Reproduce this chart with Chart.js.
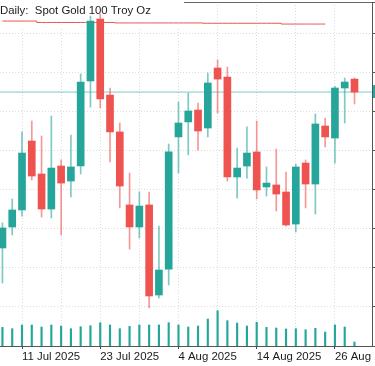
<!DOCTYPE html>
<html>
<head>
<meta charset="utf-8">
<script src="https://cdn.jsdelivr.net/npm/chart.js@4.4.1/dist/chart.umd.min.js"></script>
<style>
  body { margin: 0; background: #fff; }
  canvas { display: block; }
</style>
</head>
<body>
<canvas id="chart" width="375" height="366"></canvas>
<script>
// Daily bars, 9 Jul .. 28 Aug 2025
const dates = [
  "9 Jul 2025", "10 Jul 2025", "11 Jul 2025", "14 Jul 2025", "15 Jul 2025", "16 Jul 2025",
  "17 Jul 2025", "18 Jul 2025", "21 Jul 2025", "22 Jul 2025", "23 Jul 2025", "24 Jul 2025",
  "25 Jul 2025", "28 Jul 2025", "29 Jul 2025", "30 Jul 2025", "31 Jul 2025", "1 Aug 2025",
  "4 Aug 2025", "5 Aug 2025", "6 Aug 2025", "7 Aug 2025", "8 Aug 2025", "11 Aug 2025",
  "12 Aug 2025", "13 Aug 2025", "14 Aug 2025", "15 Aug 2025", "18 Aug 2025", "19 Aug 2025",
  "20 Aug 2025", "21 Aug 2025", "22 Aug 2025", "25 Aug 2025", "26 Aug 2025", "27 Aug 2025",
  "28 Aug 2025"
];

const opens = [
  3287.7, 3301.1, 3312.0, 3356.1, 3335.0, 3312.6, 3340.1, 3330.5, 3340.1, 3394.5,
  3434.1, 3385.5, 3361.9, 3315.2, 3301.1, 3315.2, 3257.6, 3274.2, 3358.7, 3368.3,
  3375.9, 3364.4, 3402.8, 3397.0, 3333.1, 3340.1, 3349.1, 3326.7, 3328.0, 3323.5,
  3303.0, 3342.0, 3328.6, 3365.7, 3358.0, 3390.0, 3395.7
];
const highs = [
  3303.7, 3319.0, 3361.9, 3368.9, 3359.3, 3372.1, 3344.0, 3359.9, 3399.0, 3436.0,
  3437.3, 3390.0, 3367.6, 3335.6, 3323.5, 3323.5, 3301.7, 3354.2, 3381.0, 3386.8,
  3380.4, 3399.6, 3407.9, 3403.4, 3351.6, 3365.1, 3368.9, 3339.5, 3351.0, 3336.3,
  3341.4, 3344.0, 3373.4, 3370.8, 3391.0, 3396.4, 3396.4
];
const lows = [
  3265.3, 3296.0, 3308.1, 3331.2, 3307.5, 3306.9, 3296.0, 3320.3, 3335.0, 3377.8,
  3377.2, 3342.7, 3313.3, 3287.0, 3294.1, 3249.3, 3255.7, 3264.0, 3335.6, 3347.2,
  3350.3, 3358.7, 3374.0, 3330.5, 3319.6, 3332.4, 3319.0, 3320.9, 3311.3, 3301.7,
  3297.9, 3313.3, 3309.4, 3352.3, 3342.0, 3367.6, 3379.8
];
const closes = [
  3300.5, 3312.0, 3348.4, 3333.7, 3312.6, 3338.8, 3329.2, 3339.5, 3393.8, 3432.8,
  3383.0, 3361.9, 3327.3, 3301.1, 3314.5, 3257.0, 3273.6, 3349.1, 3367.6, 3375.3,
  3362.5, 3393.2, 3395.7, 3333.1, 3338.8, 3348.4, 3324.8, 3329.2, 3322.2, 3302.4,
  3339.5, 3328.6, 3367.0, 3358.7, 3390.0, 3393.8, 3387.4
];
const volumes = [
  1870, 1730, 2100, 2100, 1900, 2100, 2000, 1730, 1930, 2030,
  2330, 2100, 1730, 1970, 2100, 2100, 2100, 2330, 2100, 1900,
  2000, 2700, 3530, 2530, 2300, 2000, 2370, 1870, 1800, 1700,
  1730, 1630, 1770, 1400, 2100, 1900, 400
];
// red level line near the top, ends at 25 Aug
const resistance = [
  3432.8, 3432.8, 3432.8, 3432.8, 3431.9, 3431.9, 3431.9, 3431.9, 3431.9, 3431.9,
  3431.9, 3431.9, 3431.6, 3431.6, 3431.6, 3431.6, 3431.6, 3431.6, 3431.6, 3431.6,
  3431.6, 3431.4, 3431.4, 3431.4, 3431.4, 3431.4, 3431.4, 3431.4, 3431.4, 3430.9,
  3430.9, 3430.9, 3430.9, 3430.9
];

// grid every 4 bars, labels every 8 bars
const gridBars = [2, 6, 10, 14, 18, 22, 26, 30, 34];
const labelBars = [2, 10, 18, 26, 34];

const upColor = "#26a69a";
const downColor = "#ef5350";
const lastClose = closes[closes.length - 1];
const xMin = -0.25;
const xMax = 37.79;
const fontFamily = '"Liberation Sans", Arial, sans-serif';

const isUp = closes.map((c, j) => c >= opens[j]);

const chartDecor = {
  id: "chartDecor",
  beforeDatasetsDraw(chart) {
    const { ctx, chartArea } = chart;
    ctx.save();
    // top frame line
    ctx.strokeStyle = "#666";
    ctx.lineWidth = 1;
    ctx.beginPath();
    ctx.moveTo(0, chartArea.top + 0.5);
    ctx.lineTo(chartArea.right, chartArea.top + 0.5);
    ctx.stroke();
    // the title box hides frame and grid behind it
    ctx.fillStyle = "#fff";
    ctx.fillRect(0, 0, 184, chartArea.top + 25);
    ctx.fillStyle = "#1b1b1b";
    ctx.font = "11.4px " + fontFamily;
    ctx.textBaseline = "middle";
    ctx.fillText("Daily:  Spot Gold 100 Troy Oz", 0, 10.5);
    ctx.restore();
  },
  afterDraw(chart) {
    const { ctx, chartArea, scales } = chart;
    // last price tag, cut by the window edge
    const y = scales.y.getPixelForValue(lastClose);
    ctx.save();
    ctx.fillStyle = upColor;
    ctx.fillRect(chartArea.right + 1, y - 7, 3, 13);
    ctx.restore();
  },
};

Chart.defaults.font.family = fontFamily;
Chart.defaults.font.size = 11.4;

new Chart(document.getElementById("chart"), {
  type: "bar",
  data: {
    datasets: [
      {
        type: "bar",
        label: "Body",
        data: dates.map((d, j) => ({ x: j, y: [opens[j], closes[j]] })),
        backgroundColor: isUp.map((u) => (u ? upColor : downColor)),
        barThickness: 7,
        grouped: false,
        borderSkipped: false,
        order: 0,
      },
      {
        type: "bar",
        label: "Wick",
        data: dates.map((d, j) => ({ x: j, y: [lows[j], highs[j]] })),
        backgroundColor: isUp.map((u) => (u ? "rgba(38,166,154,0.6)" : "rgba(239,83,80,0.6)")),
        barThickness: 1,
        grouped: false,
        borderSkipped: false,
        order: 1,
      },
      {
        type: "bar",
        label: "Volume",
        data: volumes.map((v, j) => ({ x: j, y: v })),
        backgroundColor: upColor,
        barThickness: 1.5,
        grouped: false,
        yAxisID: "yv",
        order: 2,
      },
      {
        type: "line",
        label: "Level",
        data: resistance.map((v, j) => ({ x: j, y: v })),
        borderColor: downColor,
        borderWidth: 1,
        pointRadius: 0,
        stepped: "middle",
        order: 3,
      },
      {
        type: "line",
        label: "Last",
        data: [{ x: xMin, y: lastClose }, { x: xMax, y: lastClose }],
        borderColor: "rgba(38,166,154,0.6)",
        borderWidth: 1,
        pointRadius: 0,
        order: 4,
      },
    ],
  },
  options: {
    responsive: false,
    animation: false,
    events: [],
    layout: { padding: { top: 2, left: 0, right: 0, bottom: 0 } },
    plugins: {
      legend: { display: false },
      tooltip: { enabled: false },
    },
    scales: {
      x: {
        type: "linear",
        min: xMin,
        max: xMax,
        offset: false,
        afterBuildTicks: (s) => {
          s.ticks = gridBars.map((v) => ({ value: v }));
        },
        afterFit: (s) => {
          s.height = 20;
          s.paddingLeft = 0;
          s.paddingRight = 0;
        },
        grid: {
          color: "#dcdcdc",
          offset: false,
          tickLength: 3,
          tickColor: (ctx) => (ctx.tick && labelBars.includes(ctx.tick.value) ? "#444" : "rgba(0,0,0,0)"),
        },
        border: { display: true, color: "#555", dash: [1, 2] },
        ticks: {
          autoSkip: false,
          maxRotation: 0,
          align: "start",
          padding: 1,
          color: "#1b1b1b",
          callback: (v) => (labelBars.includes(v) ? dates[v] : ""),
        },
      },
      y: {
        position: "right",
        min: 3225,
        max: 3445,
        beginAtZero: false,
        afterFit: (s) => {
          s.width = 3;
          s.paddingTop = 0;
          s.paddingBottom = 0;
        },
        grid: { color: "#dcdcdc", tickLength: 3, tickColor: "#555" },
        border: { display: true, color: "#555", dash: [1, 2] },
        ticks: { display: false, stepSize: 25 },
      },
      yv: {
        display: false,
        min: 0,
        max: 34400,
      },
    },
  },
  plugins: [chartDecor],
});
</script>
</body>
</html>
